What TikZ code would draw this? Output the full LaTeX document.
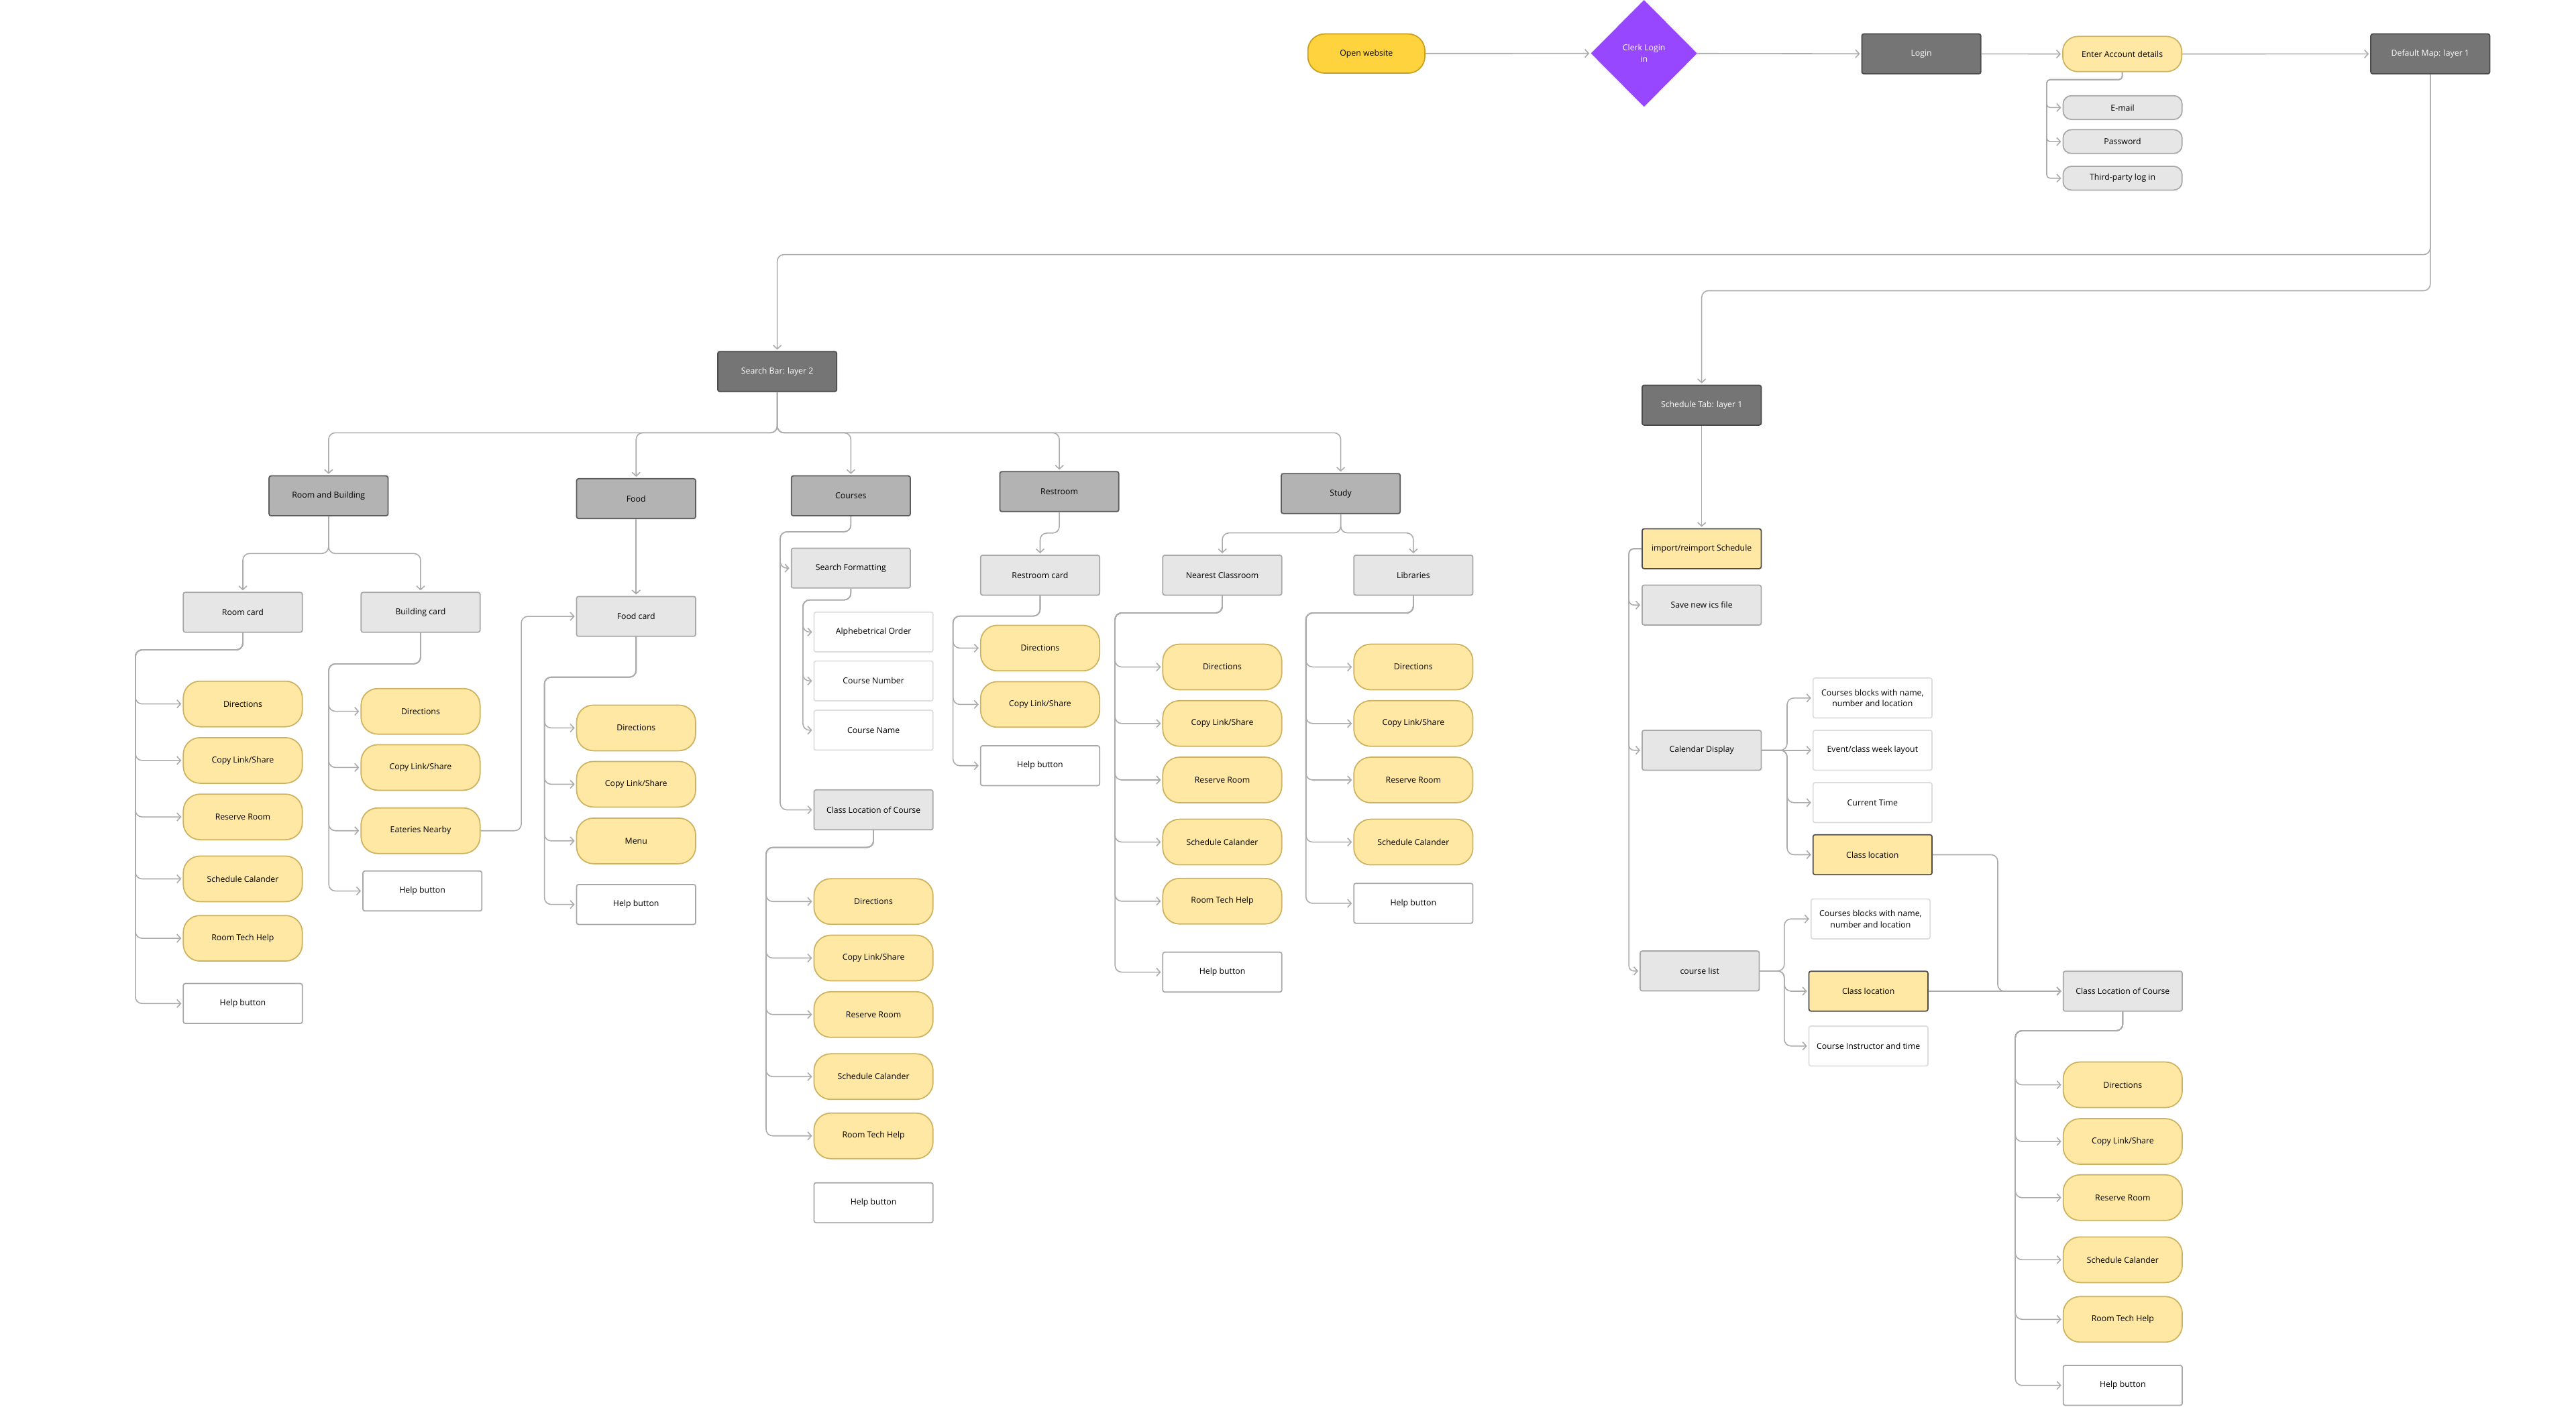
\documentclass[tikz,border=0pt]{standalone}
\usepackage{fontspec}
\setmainfont{Open Sans}
\usetikzlibrary{positioning,shapes.geometric,arrows.meta}
\definecolor{linegray}{HTML}{ABABAB}
\definecolor{darkfill}{HTML}{757575}
\definecolor{darkline}{HTML}{4A4A4A}
\definecolor{midfill}{HTML}{B3B3B3}
\definecolor{midline}{HTML}{5C5C5C}
\definecolor{cardfill}{HTML}{E6E6E6}
\definecolor{cardline}{HTML}{A8A8A8}
\definecolor{optline}{HTML}{DDDDDD}
\definecolor{pillfill}{HTML}{FFE8A3}
\definecolor{pillline}{HTML}{CDB35F}
\definecolor{startfill}{HTML}{FFD33D}
\definecolor{startline}{HTML}{C9A020}
\definecolor{keyline}{HTML}{4D4D4D}
\definecolor{clerkpurple}{HTML}{9747FF}
\tikzset{
  basebox/.style={
    draw, rectangle, rounded corners=0.6mm, minimum height=11.9mm, minimum width=35.5mm,
    line width=0.35mm, inner sep=0.5mm, align=center, font=\fontsize{7}{9.5}\selectfont
  },
  darkbox/.style={basebox, fill=darkfill, draw=darkline, text=white},
  greybox/.style={basebox, fill=midfill, draw=midline},
  cardbox/.style={basebox, fill=cardfill, draw=cardline},
  plainbox/.style={basebox, fill=white, draw=cardline},
  optbox/.style={basebox, fill=white, draw=optline},
  keybox/.style={basebox, fill=pillfill, draw=keyline},
  pill/.style={basebox, rounded corners=5mm, minimum height=13.6mm, fill=pillfill, draw=pillline},
  startpill/.style={basebox, rounded corners=5mm, minimum width=34.9mm, minimum height=11.7mm,
    fill=startfill, draw=startline},
  enterpill/.style={basebox, rounded corners=4.5mm, minimum height=10.5mm, fill=pillfill, draw=pillline},
  loginpill/.style={basebox, rounded corners=2.5mm, minimum height=7.1mm, fill=cardfill, draw=cardline},
  decision/.style={
    diamond, fill=clerkpurple, text=white, minimum width=31.7mm, minimum height=31.9mm,
    inner sep=0mm, align=center, font=\fontsize{7}{9.5}\selectfont
  },
  flow/.style={
    draw=linegray, line width=0.9pt, rounded corners=2mm, shorten >=0.4mm,
    -{Straight Barb[length=1.1mm,width=2.4mm]}
  }
}
\begin{document}
\begin{tikzpicture}[x=0.49mm, y=-0.49mm]
 \path[use as bounding box, fill=white] (0,0) rectangle (1568,856.3);

 % login row
 \node[startpill] (open) at (831.7,32.6) {Open website};
 \node[decision] (clerk) at (1000.7,32.5) {Clerk Login\\in};
 \node[darkbox] (login) at (1169.5,32.8) {Login};
 \node[enterpill] (enter) at (1291.8,32.9) {Enter Account details};
 \node[darkbox] (defmap) at (1479.3,32.8) {Default Map: layer 1};
 \node[loginpill] (email) at (1292,65.5) {E-mail};
 \node[loginpill] (passwd) at (1292,86.2) {Password};
 \node[loginpill] (third) at (1292,108.5) {Third-party log in};
 \coordinate (enrail) at (1245.8,48.5);

 \draw[flow] (open) -- (clerk);
 \draw[flow] (clerk) -- (login);
 \draw[flow] (login) -- (enter);
 \draw[flow] (enter) -- (defmap);
 \foreach \n in {email,passwd,third}
   \draw[flow,rounded corners=1mm] (enter.south) |- (enrail) |- (\n.west);

 % layers
 \node[darkbox] (search) at (473.1,226.2) {Search Bar: layer 2};
 \node[darkbox] (schedtab) at (1035.8,246.7) {Schedule Tab: layer 1};
 \coordinate (maprail) at (1479.3,155);
 \coordinate (tabrail) at (1479.3,177);
 \draw[flow] (defmap.south) -- (maprail) -| (search.north);
 \draw[flow] (defmap.south) -- (tabrail) -| (schedtab.north);

 % search bar
 \node[greybox] (roombld) at (200,301.9) {Room and Building};
 \node[greybox] (food) at (387.2,303.6) {Food};
 \node[greybox] (courses) at (517.9,301.9) {Courses};
 \node[greybox] (restroom) at (644.8,299.3) {Restroom};
 \node[greybox] (study) at (816.1,300.5) {Study};
 \coordinate (sbrail) at (473.1,263.5);
 \foreach \n in {roombld,food,courses,restroom,study}
   \draw[flow] (search.south) -- (sbrail) -| (\n.north);

 % room and building
 \node[cardbox] (roomcard) at (147.8,372.8) {Room card};
 \node[cardbox] (bldcard) at (256,372.8) {Building card};
 \coordinate (rbrail) at (200,337);
 \draw[flow] (roombld.south) -- (rbrail) -| (roomcard.north);
 \draw[flow] (roombld.south) -- (rbrail) -| (bldcard.north);

 \coordinate (rmrail) at (82.4,395.7);
 \foreach \lab/\y [count=\i] in {Directions/428.6, {Copy Link/Share}/463, Reserve Room/497.4,
     Schedule Calander/535.1, Room Tech Help/571.3} {
   \node[pill] (rm\i) at (147.8,\y) {\lab};
   \draw[flow] (roomcard.south) |- (rmrail) |- (rm\i.west);
 }
 \node[plainbox] (rmhelp) at (147.8,611) {Help button};
 \draw[flow] (roomcard.south) |- (rmrail) |- (rmhelp.west);

 \coordinate (bdrail) at (200.1,404.2);
 \foreach \lab/\y [count=\i] in {Directions/433.1, {Copy Link/Share}/467.3, Eateries Nearby/505.8} {
   \node[pill] (bd\i) at (256,\y) {\lab};
   \draw[flow] (bldcard.south) |- (bdrail) |- (bd\i.west);
 }
 \node[plainbox] (bdhelp) at (257.1,542.5) {Help button};
 \draw[flow] (bldcard.south) |- (bdrail) |- (bdhelp.west);

 % food
 \node[cardbox] (foodcard) at (387.2,375.3) {Food card};
 \draw[flow] (food) -- (foodcard);
 \coordinate (eatrail) at (317.3,505.8);
 \draw[flow] (bd3.east) -- (eatrail) |- (foodcard.west);
 \coordinate (fdrail) at (331.4,412.3);
 \foreach \lab/\y [count=\i] in {Directions/443.2, {Copy Link/Share}/477.5, Menu/512} {
   \node[pill] (fd\i) at (387.2,\y) {\lab};
   \draw[flow] (foodcard.south) |- (fdrail) |- (fd\i.west);
 }
 \node[plainbox] (fdhelp) at (387.2,550.7) {Help button};
 \draw[flow] (foodcard.south) |- (fdrail) |- (fdhelp.west);

 % courses
 \node[cardbox] (sformat) at (517.9,345.9) {Search Formatting};
 \node[cardbox] (clcmid) at (531.7,493.1) {Class Location of Course};
 \coordinate (csrail) at (474.9,323.8);
 \draw[flow] (courses.south) |- (csrail) |- (sformat.west);
 \draw[flow] (courses.south) |- (csrail) |- (clcmid.west);
 \coordinate (sfrail) at (488.7,365.3);
 \foreach \lab/\y [count=\i] in {Alphebetrical Order/384.8, Course Number/414.6, Course Name/444.6} {
   \node[optbox] (sf\i) at (531.7,\y) {\lab};
   \draw[flow] (sformat.south) |- (sfrail) |- (sf\i.west);
 }
 \coordinate (cmrail) at (466.3,516);
 \foreach \lab/\y [count=\i] in {Directions/548.9, {Copy Link/Share}/583.3, Reserve Room/617.7,
     Schedule Calander/655.5, Room Tech Help/691.6} {
   \node[pill] (cm\i) at (531.7,\y) {\lab};
   \draw[flow] (clcmid.south) |- (cmrail) |- (cm\i.west);
 }
 \node[plainbox] (cmhelp) at (531.7,732.3) {Help button};

 % restroom
 \node[cardbox] (restcard) at (633.1,350.2) {Restroom card};
 \coordinate (rrrail) at (644.8,324.6);
 \draw[flow] (restroom.south) -- (rrrail) -| (restcard.north);
 \coordinate (rcrail) at (580.1,375.1);
 \foreach \lab/\y [count=\i] in {Directions/394.6, {Copy Link/Share}/428.9} {
   \node[pill] (rc\i) at (633.1,\y) {\lab};
   \draw[flow] (restcard.south) |- (rcrail) |- (rc\i.west);
 }
 \node[plainbox] (rchelp) at (633.1,466.2) {Help button};
 \draw[flow] (restcard.south) |- (rcrail) |- (rchelp.west);

 % study
 \node[cardbox] (nearest) at (744,350.2) {Nearest Classroom};
 \node[cardbox] (library) at (860.3,350.2) {Libraries};
 \coordinate (strail) at (816.1,324.5);
 \draw[flow] (study.south) -- (strail) -| (nearest.north);
 \draw[flow] (study.south) -- (strail) -| (library.north);

 \coordinate (ncrail) at (678.7,373.2);
 \foreach \lab/\y [count=\i] in {Directions/406.1, {Copy Link/Share}/440.5, Reserve Room/474.9,
     Schedule Calander/512.7, Room Tech Help/548.7} {
   \node[pill] (nc\i) at (744,\y) {\lab};
   \draw[flow] (nearest.south) |- (ncrail) |- (nc\i.west);
 }
 \node[plainbox] (nchelp) at (744,591.9) {Help button};
 \draw[flow] (nearest.south) |- (ncrail) |- (nchelp.west);

 \coordinate (lbrail) at (794.9,373.2);
 \foreach \lab/\y [count=\i] in {Directions/406.1, {Copy Link/Share}/440.5, Reserve Room/474.9,
     Schedule Calander/512.7} {
   \node[pill] (lb\i) at (860.3,\y) {\lab};
   \draw[flow] (library.south) |- (lbrail) |- (lb\i.west);
 }
 \node[plainbox] (lbhelp) at (860.3,550) {Help button};
 \draw[flow] (library.south) |- (lbrail) |- (lbhelp.west);

 % schedule tab
 \node[keybox] (import) at (1035.8,334.1) {import/reimport Schedule};
 \node[cardbox] (savefile) at (1035.8,368.4) {Save new ics file};
 \node[cardbox] (calendar) at (1035.8,456.8) {Calendar Display};
 \node[cardbox] (courselist) at (1034.6,591.2) {course list};
 \draw[flow] (schedtab) -- (import);
 \coordinate (irail) at (991.5,334.1);
 \foreach \n in {savefile,calendar,courselist}
   \draw[flow,rounded corners=1.5mm] (import.west) -- (irail) |- (\n.west);

 \node[optbox] (cblocks) at (1139.8,425) {Courses blocks with name,\\number and location};
 \node[optbox] (eventwk) at (1139.8,456.8) {Event/class week layout};
 \node[optbox] (curtime) at (1139.8,488.7) {Current Time};
 \node[keybox] (calloc) at (1139.8,520.4) {Class location};
 \coordinate (calrail) at (1087.8,456.8);
 \draw[flow] (calendar) -- (eventwk);
 \foreach \n in {cblocks,curtime,calloc}
   \draw[flow] (calendar.east) -- (calrail) |- (\n.west);

 \node[optbox] (lblocks) at (1138.6,559.5) {Courses blocks with name,\\number and location};
 \node[keybox] (listloc) at (1137.3,603.5) {Class location};
 \node[optbox] (instr) at (1137.3,636.9) {Course Instructor and time};
 \coordinate (clrail) at (1086.1,591.2);
 \foreach \n in {lblocks,listloc,instr}
   \draw[flow] (courselist.east) -- (clrail) |- (\n.west);

 \node[cardbox] (clcright) at (1292.1,603.5) {Class Location of Course};
 \coordinate (xrail) at (1216,520.4);
 \draw[flow] (calloc.east) -- (xrail) |- (clcright.west);
 \draw[flow] (listloc) -- (clcright);

 \coordinate (ccrail) at (1226.7,627.6);
 \foreach \lab/\y [count=\i] in {Directions/660.5, {Copy Link/Share}/695, Reserve Room/729.2,
     Schedule Calander/767, Room Tech Help/803.3} {
   \node[pill] (cc\i) at (1292.1,\y) {\lab};
   \draw[flow] (clcright.south) |- (ccrail) |- (cc\i.west);
 }
 \node[plainbox] (cchelp) at (1292.1,843.5) {Help button};
 \draw[flow] (clcright.south) |- (ccrail) |- (cchelp.west);
\end{tikzpicture}
\end{document}
